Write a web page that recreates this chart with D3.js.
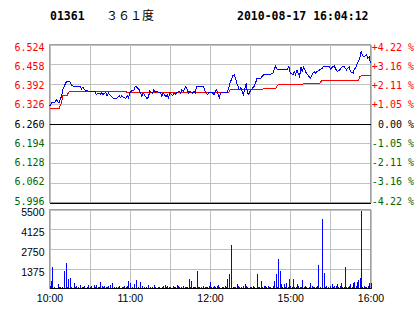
<!DOCTYPE html>
<html>
<head>
<meta charset="utf-8">
<script src="https://cdn.jsdelivr.net/npm/d3@7"></script>
<style>
  body { margin: 0; background: #fff; }
  svg { display: block; }
</style>
</head>
<body>
<div id="chart"></div>
<script>
// Intraday chart 01361 (361 Degrees), 2010-08-17
// minute index = trading minutes since 10:00 (12:30-14:30 lunch break removed)

const stockCode = "01361";
const stockName = "３６１度";
const stampText = "2010-08-17 16:04:12";
const prevClose = 6.260;

const priceTicks = [6.524, 6.458, 6.392, 6.326, 6.260, 6.194, 6.128, 6.062, 5.996];
const pctLabels = ["+4.22 %", "+3.16 %", "+2.11 %", "+1.05 %", "0.00 %", "-1.05 %", "-2.11 %", "-3.16 %", "-4.22 %"];
const volTicks = [5500, 4125, 2750, 1375];
const timeTicks = [0, 60, 120, 180, 240];
const timeLabels = ["10:00", "11:00", "12:00", "15:00", "16:00"];
const gridMinutes = [0, 30, 60, 90, 120, 150, 180, 210, 240];

// last price
const priceMin = [0, 2, 3, 4, 5, 7, 8, 9, 10, 12, 13, 14, 15, 17, 18, 19, 20, 22, 23, 24,
  25, 27, 28, 29, 30, 32, 33, 34, 35, 37, 38, 39, 40, 42, 43, 44, 45, 47, 48, 49,
  50, 52, 53, 54, 55, 57, 58, 59, 60, 62, 63, 64, 65, 67, 68, 69, 70, 72, 73, 74,
  75, 77, 78, 79, 80, 82, 83, 84, 85, 87, 88, 89, 90, 92, 93, 94, 95, 97, 98, 99,
  100, 102, 103, 104, 105, 107, 108, 109, 110, 115, 117, 118, 119, 122, 123, 124, 125, 127, 128, 129,
  133, 134, 135, 137, 138, 139, 140, 142, 143, 144, 145, 147, 148, 149, 150, 152, 153, 154, 155, 157,
  158, 159, 160, 162, 164, 167, 168, 169, 170, 178, 179, 180, 182, 183, 184, 185, 187, 188, 189, 190,
  192, 193, 194, 195, 197, 198, 199, 200, 202, 203, 204, 205, 209, 210, 212, 213, 214, 215, 217, 218,
  219, 220, 222, 223, 224, 225, 227, 228, 229, 230, 232, 233, 234, 235, 237, 238, 239, 240];
const priceVal = [6.317, 6.331, 6.331, 6.331, 6.340, 6.329, 6.340, 6.351, 6.373, 6.395, 6.401, 6.401, 6.401, 6.386, 6.384, 6.384, 6.384, 6.384, 6.384, 6.376,
  6.382, 6.368, 6.371, 6.368, 6.368, 6.368, 6.368, 6.368, 6.357, 6.362, 6.357, 6.362, 6.357, 6.364, 6.353, 6.362, 6.357, 6.346, 6.343, 6.343,
  6.343, 6.353, 6.346, 6.353, 6.349, 6.343, 6.353, 6.346, 6.362, 6.371, 6.371, 6.382, 6.382, 6.373, 6.362, 6.351, 6.362, 6.349, 6.343, 6.349,
  6.368, 6.362, 6.373, 6.364, 6.368, 6.362, 6.362, 6.351, 6.362, 6.349, 6.357, 6.346, 6.362, 6.353, 6.362, 6.357, 6.362, 6.368, 6.362, 6.373,
  6.368, 6.384, 6.373, 6.362, 6.368, 6.362, 6.368, 6.362, 6.384, 6.384, 6.362, 6.357, 6.362, 6.362, 6.357, 6.368, 6.373, 6.346, 6.362, 6.364,
  6.364, 6.379, 6.395, 6.419, 6.423, 6.412, 6.395, 6.373, 6.379, 6.368, 6.357, 6.395, 6.362, 6.357, 6.368, 6.379, 6.384, 6.395, 6.409, 6.412,
  6.412, 6.417, 6.423, 6.423, 6.423, 6.428, 6.439, 6.452, 6.442, 6.442, 6.450, 6.428, 6.423, 6.434, 6.423, 6.439, 6.417, 6.450, 6.434, 6.448,
  6.428, 6.423, 6.417, 6.412, 6.428, 6.434, 6.428, 6.434, 6.439, 6.442, 6.445, 6.452, 6.452, 6.442, 6.450, 6.452, 6.442, 6.434, 6.439, 6.445,
  6.450, 6.452, 6.439, 6.445, 6.450, 6.434, 6.428, 6.442, 6.445, 6.461, 6.478, 6.500, 6.489, 6.483, 6.489, 6.478, 6.483, 6.461];

// average price, red line
const avgMin = [0, 7, 9, 10, 13, 14, 15, 57, 58, 80, 127, 128, 134, 135, 159, 160, 169, 170, 171, 189,
  190, 202, 203, 204, 231, 232, 233, 240];
const avgVal = [6.309, 6.309, 6.330, 6.353, 6.353, 6.362, 6.367, 6.367, 6.364, 6.362, 6.362, 6.364, 6.364, 6.373, 6.373, 6.376, 6.376, 6.384, 6.390, 6.390,
  6.395, 6.395, 6.400, 6.404, 6.404, 6.416, 6.419, 6.419];

// volume per minute, index = minute 0..240
const volumes = [
  150, 510, 1500, 100, 60, 0, 280, 100, 120, 100, 0, 1200, 1810, 100, 650, 700, 100, 0, 350, 120,
  200, 100, 0, 230, 120, 100, 180, 0, 120, 230, 100, 150, 0, 230, 100, 230, 120, 100, 420, 150,
  100, 200, 120, 100, 150, 230, 0, 350, 100, 0, 120, 100, 150, 0, 100, 120, 180, 100, 150, 510,
  350, 0, 120, 280, 0, 580, 100, 0, 420, 150, 0, 100, 120, 0, 230, 100, 0, 120, 230, 100,
  0, 100, 120, 0, 100, 150, 230, 100, 150, 120, 100, 0, 150, 120, 100, 230, 150, 100, 120, 0,
  150, 100, 120, 100, 650, 100, 510, 100, 120, 100, 1200, 100, 120, 100, 0, 150, 100, 120, 100, 150,
  420, 100, 120, 200, 100, 150, 230, 100, 0, 120, 100, 150, 100, 650, 1040, 0, 3020, 100, 120, 100,
  280, 150, 100, 120, 0, 150, 280, 200, 100, 0, 120, 100, 150, 100, 0, 1040, 100, 120, 510, 100,
  150, 200, 100, 150, 120, 100, 0, 150, 510, 975, 100, 2040, 1200, 280, 100, 280, 120, 350, 100, 650,
  150, 100, 650, 120, 100, 280, 150, 100, 120, 580, 100, 150, 100, 0, 120, 350, 150, 100, 120, 100,
  150, 1620, 100, 0, 4830, 1110, 100, 150, 120, 0, 150, 280, 100, 200, 150, 280, 100, 200, 350, 120,
  100, 1500, 100, 120, 150, 280, 100, 350, 420, 150, 420, 580, 700, 5390, 100, 150, 120, 100, 150, 350,
  350
];

const width = 414;
const height = 314;
const plotLeft = 49.5;
const plotRight = 370.5;
const priceTop = 44.5;
const priceBottom = 202.5;
const volTop = 209.5;
const volBottom = 288.5;

const monoFont = "'DejaVu Sans Mono', 'Liberation Mono', monospace";
const sansFont = "'Liberation Sans', Arial, sans-serif";
const upColor = "#ff0000";
const downColor = "#006600";
const gridColor = "#c0c0c0";

const svg = d3.select("#chart")
  .append("svg")
  .attr("width", width)
  .attr("height", height);

const x = d3.scaleLinear().domain([0, 240]).range([plotLeft, plotRight]);
const yPrice = d3.scaleLinear().domain([5.996, 6.524]).range([priceBottom, priceTop]);
// the labels sit a little inside the gridlines at both ends
const yPriceLabel = d3.scaleLinear().domain([5.996, 6.524]).range([201, 47]);
const yVol = d3.scaleLinear().domain([0, 5500]).range([volBottom, volTop]);

// header
svg.append("text")
  .attr("x", 50).attr("y", 19.5)
  .attr("font-family", monoFont).attr("font-size", "11.5px").attr("font-weight", "bold")
  .text(stockCode);
svg.append("text")
  .attr("x", 106).attr("y", 20)
  .attr("font-family", "'Noto Sans CJK SC', sans-serif").attr("font-size", "12px")
  .text(stockName);
svg.append("text")
  .attr("x", 237).attr("y", 19.5)
  .attr("font-family", monoFont).attr("font-size", "11.5px").attr("font-weight", "bold")
  .text(stampText);

// grid, price panel
svg.append("g")
  .attr("transform", `translate(${plotLeft},0)`)
  .call(d3.axisLeft(yPrice).tickValues(priceTicks).tickSize(-(plotRight - plotLeft)).tickFormat(""))
  .call(g => g.select(".domain").remove())
  .call(g => g.selectAll("line")
    .attr("stroke", d => (d === prevClose || d === 5.996) ? "#000" : gridColor)
    .attr("shape-rendering", "crispEdges"));

svg.append("g")
  .attr("transform", `translate(0,${priceBottom})`)
  .call(d3.axisBottom(x).tickValues(gridMinutes).tickSize(-(priceBottom - priceTop)).tickFormat(""))
  .call(g => g.select(".domain").remove())
  .call(g => g.selectAll("line").attr("stroke", gridColor).attr("shape-rendering", "crispEdges"));

// grid, volume panel
svg.append("g")
  .attr("transform", `translate(${plotLeft},0)`)
  .call(d3.axisLeft(yVol).tickValues(volTicks).tickSize(-(plotRight - plotLeft)).tickFormat(""))
  .call(g => g.select(".domain").remove())
  .call(g => g.selectAll("line").attr("stroke", gridColor).attr("shape-rendering", "crispEdges"));

svg.append("g")
  .attr("transform", `translate(0,${volBottom})`)
  .call(d3.axisBottom(x).tickValues(gridMinutes).tickSize(-(volBottom - volTop)).tickFormat(""))
  .call(g => g.select(".domain").remove())
  .call(g => g.selectAll("line").attr("stroke", gridColor).attr("shape-rendering", "crispEdges"));

// left price labels
const priceColor = d => d > prevClose ? upColor : (d < prevClose ? downColor : "#000");
svg.append("g")
  .attr("transform", `translate(${plotLeft},0)`)
  .call(d3.axisLeft(yPriceLabel).tickValues(priceTicks).tickSize(0).tickPadding(5).tickFormat(d3.format(".3f")))
  .call(g => g.select(".domain").remove())
  .call(g => g.selectAll("text")
    .attr("font-family", monoFont).attr("font-size", "10px")
    .attr("fill", priceColor));

// right percent labels
svg.append("g")
  .attr("transform", `translate(${plotRight},0)`)
  .call(d3.axisRight(yPriceLabel).tickValues(priceTicks).tickSize(0).tickFormat((d, i) => pctLabels[i]))
  .call(g => g.select(".domain").remove())
  .call(g => g.selectAll("text")
    .attr("x", width - plotRight)
    .attr("text-anchor", "end")
    .attr("font-family", monoFont).attr("font-size", "10px")
    .attr("fill", priceColor));

// volume labels
svg.append("g")
  .attr("transform", `translate(${plotLeft},3)`)
  .call(d3.axisLeft(yVol).tickValues(volTicks).tickSize(0).tickPadding(5).tickFormat(d3.format("d")))
  .call(g => g.select(".domain").remove())
  .call(g => g.selectAll("text")
    .attr("font-family", sansFont).attr("font-size", "10.5px").attr("fill", "#000"));

// time labels
svg.append("g")
  .attr("transform", `translate(0,${volBottom + 4})`)
  .call(d3.axisBottom(x).tickValues(timeTicks).tickSize(0).tickPadding(2).tickFormat((d, i) => timeLabels[i]))
  .call(g => g.select(".domain").remove())
  .call(g => g.selectAll("text")
    .attr("font-family", sansFont).attr("font-size", "10.5px").attr("fill", "#000"));

// panel borders
svg.append("rect")
  .attr("x", x(0)).attr("y", yPrice(6.524))
  .attr("width", x(240) - x(0)).attr("height", yPrice(5.996) - yPrice(6.524))
  .attr("fill", "none").attr("stroke", "#a0a0a0").attr("shape-rendering", "crispEdges");
svg.append("rect")
  .attr("x", x(0)).attr("y", yVol(5500))
  .attr("width", x(240) - x(0)).attr("height", yVol(0) - yVol(5500))
  .attr("fill", "none").attr("stroke", "#a0a0a0").attr("shape-rendering", "crispEdges");

// prev close and lower limit lines
svg.append("g")
  .selectAll("line")
  .data([prevClose, 5.996])
  .join("line")
  .attr("x1", x(0)).attr("x2", x(240))
  .attr("y1", d => Math.round(yPrice(d)) + 0.5).attr("y2", d => Math.round(yPrice(d)) + 0.5)
  .attr("stroke", "#000").attr("shape-rendering", "crispEdges");

// volume bars
svg.append("g")
  .attr("fill", "#0000ff")
  .selectAll("rect")
  .data(volumes.map((v, i) => ({ m: i, v: v })).filter(d => d.v > 0))
  .join("rect")
  .attr("x", d => Math.round(x(d.m)))
  .attr("y", d => yVol(d.v))
  .attr("width", 1)
  .attr("height", d => yVol(0) - yVol(d.v))
  .attr("shape-rendering", "crispEdges");

svg.append("line")
  .attr("x1", x(0)).attr("x2", x(240))
  .attr("y1", yVol(0)).attr("y2", yVol(0))
  .attr("stroke", "#000").attr("shape-rendering", "crispEdges");

// average line
const priceLine = d3.line().x(d => x(d[0])).y(d => yPrice(d[1]));
svg.append("path")
  .datum(avgMin.map((m, i) => [m, avgVal[i]]))
  .attr("fill", "none")
  .attr("stroke", "#ff0000")
  .attr("stroke-width", 1)
  .attr("shape-rendering", "crispEdges")
  .attr("d", priceLine);

// last price line
svg.append("path")
  .datum(priceMin.map((m, i) => [m, priceVal[i]]))
  .attr("fill", "none")
  .attr("stroke", "#0000ff")
  .attr("stroke-width", 1)
  .attr("shape-rendering", "crispEdges")
  .attr("d", priceLine);
</script>
</body>
</html>
